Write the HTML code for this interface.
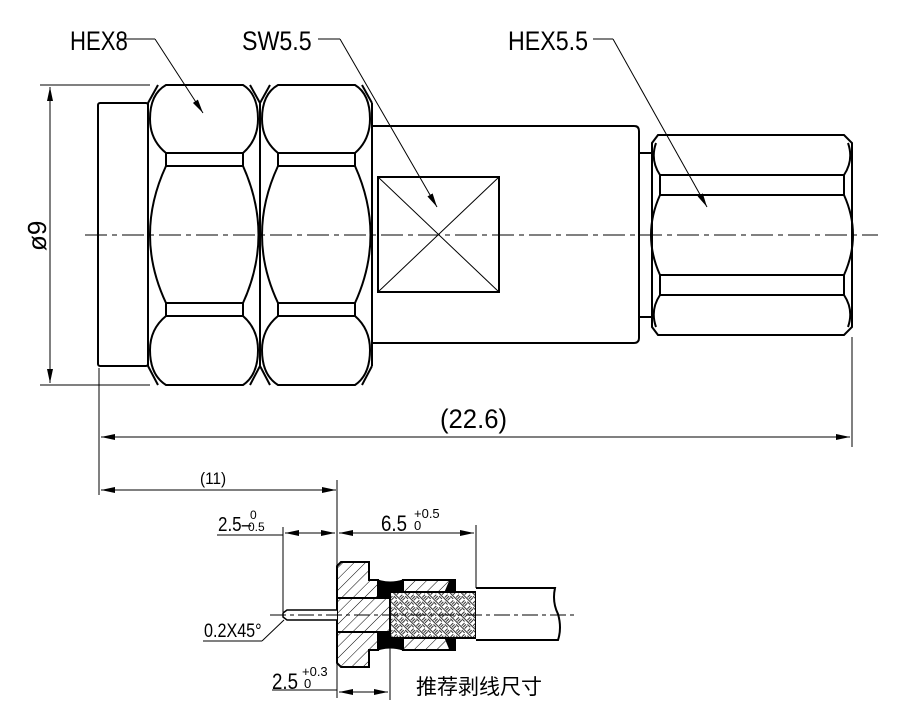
<!DOCTYPE html>
<html><head><meta charset="utf-8"><style>
html,body{margin:0;padding:0;background:#fff;}
svg{display:block;}
text{font-family:"Liberation Sans","Noto Sans CJK SC",sans-serif;fill:#000;}
</style></head><body>
<svg width="910" height="711" viewBox="0 0 910 711" xmlns="http://www.w3.org/2000/svg">
<defs>
<pattern id="h1" width="8" height="8" patternUnits="userSpaceOnUse" patternTransform="rotate(45)">
<line x1="0" y1="0" x2="0" y2="8" stroke="#000" stroke-width="1"/></pattern>
<pattern id="bw" width="8" height="8" patternUnits="userSpaceOnUse" patternTransform="rotate(45)">
<rect width="8" height="8" fill="#fff"/>
<line x1="1" y1="0" x2="1" y2="4" stroke="#000" stroke-width="0.8"/>
<line x1="3" y1="0" x2="3" y2="4" stroke="#000" stroke-width="0.8"/>
<line x1="4" y1="5" x2="8" y2="5" stroke="#000" stroke-width="0.8"/>
<line x1="4" y1="7" x2="8" y2="7" stroke="#000" stroke-width="0.8"/>
<line x1="5" y1="0" x2="5" y2="4" stroke="#000" stroke-width="0.8"/>
<line x1="0" y1="5" x2="4" y2="5" stroke="#000" stroke-width="0.8"/>
</pattern>
<marker id="a" markerWidth="14" markerHeight="6" refX="14" refY="3" orient="auto" markerUnits="userSpaceOnUse">
<path d="M0,0 L14,3 L0,6 Z" fill="#000"/></marker>
<marker id="as" markerWidth="14" markerHeight="6" refX="0" refY="3" orient="auto" markerUnits="userSpaceOnUse">
<path d="M14,0 L0,3 L14,6 Z" fill="#000"/></marker>
</defs>
<g fill="none" stroke="#000" stroke-width="2">
<rect x="98" y="103" width="50" height="263" rx="2"/>
<g id="hx">
<line x1="148" y1="103" x2="148" y2="366"/>
<line x1="260" y1="103" x2="260" y2="366"/>
<line x1="148" y1="103" x2="158" y2="85"/><line x1="260" y1="103" x2="250" y2="85"/>
<line x1="148" y1="366" x2="158" y2="385"/><line x1="260" y1="366" x2="250" y2="385"/>
<path d="M166,153 Q150,140 150,119 Q150,94 166,85 L243,85 Q258,94 258,119 Q258,140 243,153 Z"/>
<rect x="166" y="153" width="77" height="13"/>
<path d="M166,166 Q134,235 166,303 L243,303 Q274,235 243,166 Z"/>
<rect x="166" y="303" width="77" height="13"/>
<path d="M166,316 Q150,329 150,350 Q150,375 166,385 L243,385 Q258,375 258,350 Q258,329 243,316 Z"/>
</g>
<use href="#hx" transform="translate(112,0)"/>
<path d="M372,126 L634,126 Q639,126 639,131 L639,338 Q639,343 634,343 L372,343"/>
<rect x="378" y="177" width="121" height="115" stroke-width="2"/>
<line x1="378" y1="177" x2="499" y2="292" stroke-width="1"/>
<line x1="499" y1="177" x2="378" y2="292" stroke-width="1"/>
<line x1="639" y1="153" x2="652" y2="153"/><line x1="639" y1="317" x2="652" y2="317"/>
<path d="M658,135 L844,135 L852,143 L852,327 L844,335 L658,335 L652,327 L652,143 Z"/>
<path d="M660,175 Q650,160 656,143 M844,175 Q854,160 848,143"/>
<line x1="660" y1="175" x2="844" y2="175"/><line x1="660" y1="195" x2="844" y2="195"/>
<line x1="660" y1="175" x2="660" y2="195"/><line x1="844" y1="175" x2="844" y2="195"/>
<path d="M660,195 Q642,235 660,275 M844,195 Q862,235 844,275"/>
<line x1="660" y1="275" x2="844" y2="275"/><line x1="660" y1="295" x2="844" y2="295"/>
<line x1="660" y1="275" x2="660" y2="295"/><line x1="844" y1="275" x2="844" y2="295"/>
<path d="M660,295 Q650,310 656,327 M844,295 Q854,310 848,327"/>
</g>
<line x1="85" y1="235" x2="878" y2="235" stroke="#000" stroke-width="1" stroke-dasharray="22,5,5,5"/>
<g stroke="#000" stroke-width="1" fill="none">
<line x1="120" y1="39" x2="155" y2="39"/><line x1="155" y1="39" x2="203" y2="113" marker-end="url(#a)"/>
<line x1="318" y1="39" x2="340" y2="39"/><line x1="340" y1="39" x2="437" y2="207" marker-end="url(#a)"/>
<line x1="593" y1="39" x2="613" y2="39"/><line x1="613" y1="39" x2="707" y2="207" marker-end="url(#a)"/>
<line x1="40" y1="85" x2="150" y2="85"/><line x1="40" y1="385" x2="150" y2="385"/>
<line x1="50" y1="87" x2="50" y2="383" marker-start="url(#as)" marker-end="url(#a)"/>
<line x1="99" y1="368" x2="99" y2="495"/><line x1="852" y1="337" x2="852" y2="447"/>
<line x1="101" y1="437" x2="850" y2="437" marker-start="url(#as)" marker-end="url(#a)"/>
<line x1="101" y1="490" x2="336" y2="490" marker-start="url(#as)" marker-end="url(#a)"/>
<line x1="337" y1="480" x2="337" y2="698"/>
<line x1="283" y1="527" x2="283" y2="612"/>
<line x1="217" y1="535" x2="283" y2="535"/>
<line x1="285" y1="533" x2="335" y2="533" marker-start="url(#as)" marker-end="url(#a)"/>
<line x1="339" y1="533" x2="474" y2="533" marker-start="url(#as)" marker-end="url(#a)"/>
<line x1="476" y1="525" x2="476" y2="588"/>
<line x1="272" y1="690" x2="337" y2="690"/>
<line x1="390" y1="632" x2="390" y2="700"/>
<line x1="339" y1="692" x2="388" y2="692" marker-start="url(#as)" marker-end="url(#a)"/>
<line x1="284" y1="620" x2="262" y2="641"/><line x1="203" y1="641" x2="262" y2="641"/>
</g>
<g stroke="#000" stroke-width="2">
<path d="M341,562 L369,562 L369,580 L378,580 L378,598 L390,598 L390,632 L378,632 L378,650 L369,650 L369,667 L341,667 L337,663 L337,566 Z" fill="url(#h1)"/>
<line x1="337" y1="598" x2="390" y2="598"/><line x1="337" y1="632" x2="390" y2="632"/>
<path d="M378,580 Q390,584 403,580 L403,592 L390,592 L390,598 L378,598 Z" fill="#000" stroke-width="1"/>
<path d="M378,650 Q390,646 403,650 L403,638 L390,638 L390,632 L378,632 Z" fill="#000" stroke-width="1"/>
<path d="M403,580 L455,580 L455,592 L403,592 Z" fill="url(#h1)"/>
<path d="M403,638 L455,638 L455,650 L403,650 Z" fill="url(#h1)"/>
<path d="M450,580 L455,580 L455,592 L445,592 Z" fill="#000" stroke-width="1"/>
<path d="M450,650 L455,650 L455,638 L445,638 Z" fill="#000" stroke-width="1"/>
<rect x="390" y="592" width="86" height="46" fill="url(#bw)"/>
<path d="M476,588 L555,588 Q552,602 558,614 Q562,628 558,640 L476,640" fill="#fff"/>
<path d="M337,610 L287,610 L283,613 L283,617 L287,620 L337,620" fill="#fff" stroke-width="1.5"/>
</g>
<line x1="270" y1="615" x2="575" y2="615" stroke="#000" stroke-width="1" stroke-dasharray="16,4,4,4"/>
<text transform="translate(70,50) scale(0.82,1)" font-size="27">HEX8</text>
<text transform="translate(242,50) scale(0.86,1)" font-size="27">SW5.5</text>
<text transform="translate(508,50) scale(0.86,1)" font-size="27">HEX5.5</text>
<text transform="translate(46,235) rotate(-90)" x="-16" y="0" font-size="26">ø9</text>
<text transform="translate(440,428) scale(0.95,1)" font-size="27">(22.6)</text>
<text transform="translate(200,484) scale(0.9,1)" font-size="17">(11)</text>
<text transform="translate(218,531) scale(0.85,1)" font-size="20">2.5–</text>
<text x="250" y="519" font-size="12">0</text>
<text x="248" y="531" font-size="12">0.5</text>
<text transform="translate(381,531) scale(0.85,1)" font-size="22">6.5</text>
<text x="414" y="518" font-size="13">+0.5</text>
<text x="414" y="530" font-size="13">0</text>
<text transform="translate(204,637) scale(0.85,1)" font-size="19">0.2X45°</text>
<text transform="translate(272,689) scale(0.85,1)" font-size="22">2.5</text>
<text x="302" y="676" font-size="13">+0.3</text>
<text x="304" y="688" font-size="13">0</text>
<text x="416" y="694" font-size="21" style="font-family:'Noto Sans CJK SC',sans-serif">推荐剥线尺寸</text>
</svg>
</body></html>
